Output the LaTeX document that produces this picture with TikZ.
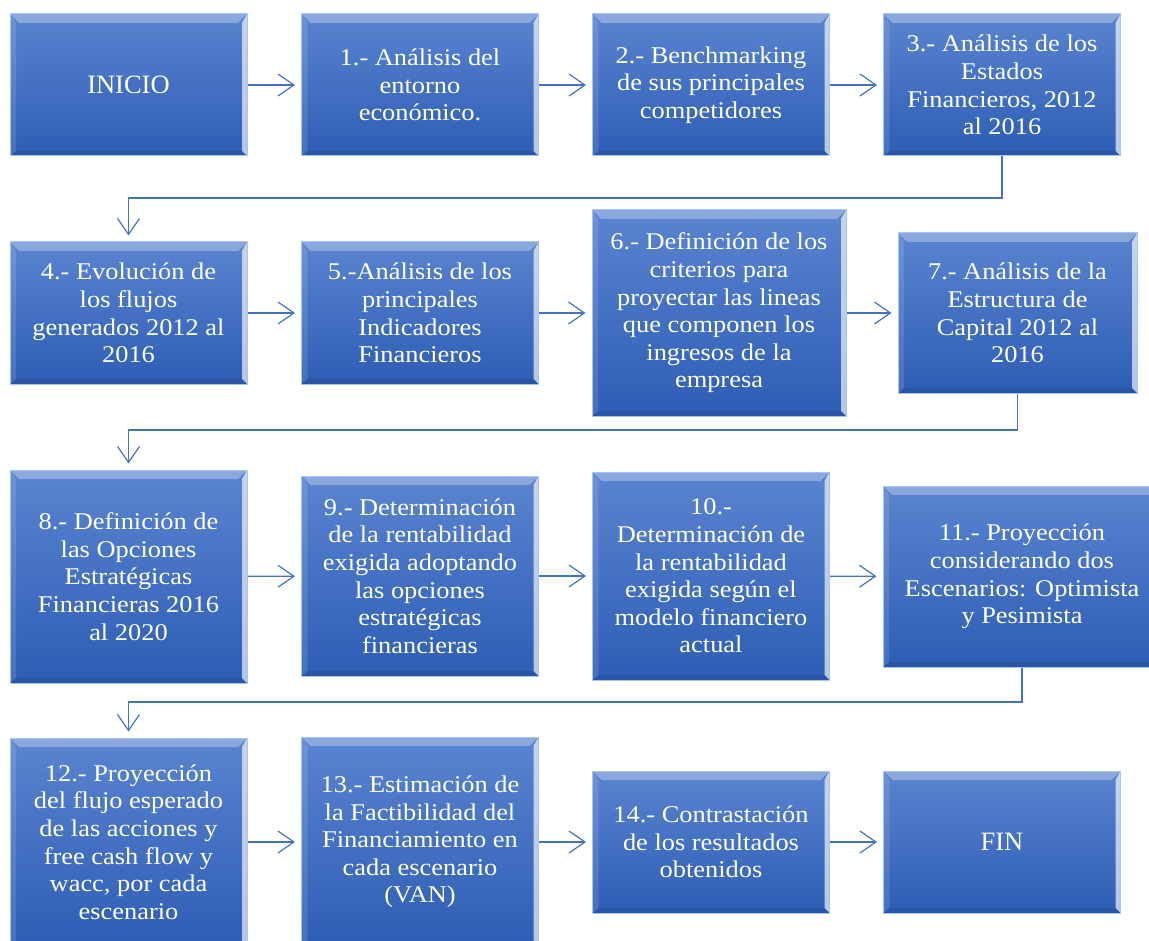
\documentclass[tikz,border=0pt]{standalone}
\usepackage{fontspec}
\setmainfont{Liberation Serif}
\newfontfamily\boxfont{Liberation Serif}[FakeStretch=1.1]
\usetikzlibrary{positioning}
\usetikzlibrary{arrows.meta}
\definecolor{boxtop}{RGB}{90,132,208}
\definecolor{boxbot}{RGB}{45,93,180}
\definecolor{boxedge}{RGB}{165,198,242}
\definecolor{linkblue}{RGB}{68,114,196}
\tikzset{%
  box/.style = {rectangle,draw=boxedge,line width=1pt,
        top color=boxtop,bottom color=boxbot,text=white,
        align=center,inner sep=0pt,
        minimum width=237pt,minimum height=142pt,
        font=\boxfont\fontsize{24}{27.6}\selectfont,
        path picture={
          \fill[white,opacity=0.3] (path picture bounding box.north west)
            -- (path picture bounding box.north east)
            -- ([shift={(-9pt,-9pt)}]path picture bounding box.north east)
            -- ([shift={(9pt,-9pt)}]path picture bounding box.north west) -- cycle;
          \fill[white,opacity=0.65] (path picture bounding box.north east)
            -- (path picture bounding box.south east)
            -- ([shift={(-5pt,5pt)}]path picture bounding box.south east)
            -- ([shift={(-5pt,-9pt)}]path picture bounding box.north east) -- cycle;
          \fill[white,opacity=0.12] (path picture bounding box.north west)
            -- (path picture bounding box.south west)
            -- ([shift={(6pt,5pt)}]path picture bounding box.south west)
            -- ([shift={(6pt,-9pt)}]path picture bounding box.north west) -- cycle;
          \fill[black,opacity=0.08] (path picture bounding box.south west)
            -- (path picture bounding box.south east)
            -- ([shift={(-5pt,5pt)}]path picture bounding box.south east)
            -- ([shift={(6pt,5pt)}]path picture bounding box.south west) -- cycle;
        }},
  endbox/.style = {box,font=\rmfamily\fontsize{26.5}{31}\selectfont},
  flow/.style = {-{Straight Barb[length=16pt,width=22pt]},draw=linkblue,
        line width=1.2pt,shorten >=6pt}
}

\begin{document}
\begin{tikzpicture}[x=1pt,y=-1pt]
    \clip (0,0) rectangle (1149,941);
    \fill[white] (0,0) rectangle (1149,941);
    % first row
    \node[endbox] (n0) at (128.5,85) {INICIO};
    \node[box] (n1) at (420,85) {1.- Análisis del\\entorno\\económico.};
    \node[box] (n2) at (711,85) {2.- Benchmarking\\de sus principales\\competidores};
    \node[box] (n3) at (1002,85) {3.- Análisis de los\\Estados\\Financieros, 2012\\al 2016};
    % second row
    \node[box] (n4) at (128.5,313) {4.- Evolución de\\los flujos\\generados 2012 al\\2016};
    \node[box] (n5) at (420,313) {5.-Análisis de los\\principales\\Indicadores\\Financieros};
    \node[box,minimum width=254pt,minimum height=206pt] (n6) at (719,313)
        {6.- Definición de los\\criterios para\\proyectar las lineas\\que componen los\\ingresos de la\\empresa};
    \node[box,minimum width=239pt,minimum height=160pt] (n7) at (1017.5,313)
        {7.- Análisis de la\\Estructura de\\Capital 2012 al\\2016};
    % third row
    \node[box,minimum height=213pt] (n8) at (128.5,576.5)
        {8.- Definición de\\las Opciones\\Estratégicas\\Financieras 2016\\al 2020};
    \node[box,minimum height=200pt] (n9) at (420,576)
        {9.- Determinación\\de la rentabilidad\\exigida adoptando\\las opciones\\estratégicas\\financieras};
    \node[box,minimum height=208pt] (n10) at (711,576)
        {10.-\\Determinación de\\la rentabilidad\\exigida según el\\modelo financiero\\actual};
    \node[box,minimum width=278pt,minimum height=181pt] (n11) at (1022,576.5)
        {11.- Proyección\\considerando dos\\Escenarios: Optimista\\y Pesimista};
    % fourth row
    \node[box,minimum height=208pt] (n12) at (128.5,842)
        {12.- Proyección\\del flujo esperado\\de las acciones y\\free cash flow y\\wacc, por cada\\escenario};
    \node[box,minimum height=210pt] (n13) at (420,842)
        {13.- Estimación de\\la Factibilidad del\\Financiamiento en\\cada escenario\\(VAN)};
    \node[box] (n14) at (711,842) {14.- Contrastación\\de los resultados\\obtenidos};
    \node[endbox] (n15) at (1002,842) {FIN};

    \coordinate (k1) at (0,198);
    \coordinate (k2) at (0,430);
    \coordinate (k3) at (0,702);

    \draw[flow] (n0) -- (n1);
    \draw[flow] (n1) -- (n2);
    \draw[flow] (n2) -- (n3);
    \draw[flow] (n3) -- (n3.south |- k1) -| (n4);
    \draw[flow] (n4) -- (n5);
    \draw[flow] (n5) -- (n6);
    \draw[flow] (n6) -- (n7);
    \draw[flow] (n7) -- (n7.south |- k2) -| (n8);
    \draw[flow] (n8) -- (n9);
    \draw[flow] (n9) -- (n10);
    \draw[flow] (n10) -- (n11);
    \draw[flow] (n11) -- (n11.south |- k3) -| (n12);
    \draw[flow] (n12) -- (n13);
    \draw[flow] (n13) -- (n14);
    \draw[flow] (n14) -- (n15);
\end{tikzpicture}
\end{document}
